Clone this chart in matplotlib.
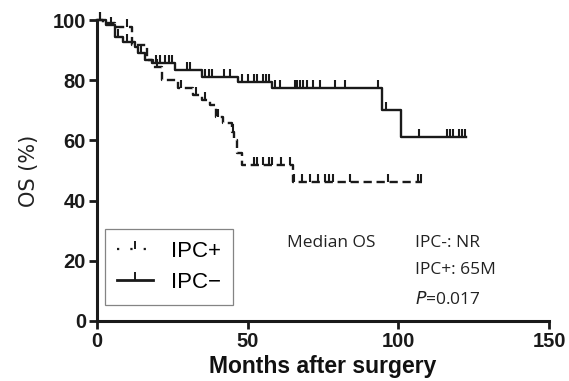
import numpy as np
import matplotlib
matplotlib.use("Agg")
import matplotlib.pyplot as plt
from matplotlib.lines import Line2D

# ---- data ----
neg_times = [0, 3, 6, 8.6, 12.6, 13.7, 16, 18.1, 26, 35, 46.8, 58, 94.5, 100.8]
neg_surv  = [100, 98.3, 94.5, 92.8, 91.1, 89, 86.7, 85.7, 83.4, 81, 79.5, 77.3, 70.1, 61.2]
neg_end = 122.5
neg_censor = [1, 4.5, 7, 10, 14.5, 19.5, 21, 22.5, 24, 25, 30, 31, 36, 37, 38, 42, 44, 48, 50,
              52, 53, 55, 56, 57, 59, 60.7, 65.7, 66.5, 67.5, 68.4, 69.7, 71.7, 74, 79, 82.3, 93.3,
              96, 107, 116, 117, 118, 120, 121, 122]

pos_times = [0, 2, 6, 11.5, 16.5, 18.6, 21.5, 27, 32, 35, 37.5, 39.5, 41.9, 44.7, 45.5, 46.5, 48, 65]
pos_surv  = [100, 99, 97.7, 91.7, 86.7, 84.4, 80, 77.4, 75, 73.4, 71.8, 67.9, 65.7, 62.9, 60.1, 55.8, 51.8, 46.3]
pos_end = 108
pos_censor = [1, 10, 20, 28, 33, 36, 40, 45, 52, 53, 55, 57, 58, 61, 64,
              65.5, 68, 70.7, 73.3, 75.7, 77, 78.3, 84, 96.6, 106.5, 107.5]

xticks = [0, 50, 100, 150]
yticks = [0, 20, 40, 60, 80, 100]


def step_arrays(times, surv, end):
    t = np.array(list(times) + [end])
    s = np.array(list(surv) + [surv[-1]])
    return t, s


def level_at(t, s, x):
    return s[np.searchsorted(t, x, side="right") - 1]


fig = plt.figure(figsize=(5.69, 3.81), dpi=100)
ax = fig.add_axes([0.1705, 0.1575, 0.7944, 0.79])
ink = "#1a1a1a"

# IPC- solid
tn, sn = step_arrays(neg_times, neg_surv, neg_end)
ax.step(tn, sn, where="post", color=ink, lw=1.7, clip_on=False)
ax.plot(neg_censor, [level_at(tn, sn, c) for c in neg_censor], linestyle="none", marker=2,
        markersize=6, mew=1.5, color=ink, clip_on=False)

# IPC+ dashed
tp, sp = step_arrays(pos_times, pos_surv, pos_end)
ax.step(tp, sp, where="post", color=ink, lw=1.7, dashes=(3.5, 2), clip_on=False)
ax.plot(pos_censor, [level_at(tp, sp, c) for c in pos_censor], linestyle="none", marker=2,
        markersize=6, mew=1.5, color=ink, clip_on=False)

ax.set_xlim(0, 150)
ax.set_ylim(0, 100)
ax.set_xticks(xticks)
ax.set_yticks(yticks)
for s_ in ["top", "right"]:
    ax.spines[s_].set_visible(False)
for s_ in ["left", "bottom"]:
    ax.spines[s_].set_linewidth(2.2)
    ax.spines[s_].set_color(ink)
ax.tick_params(axis="both", direction="out", length=6, width=2, color=ink, pad=2)
for lab in ax.get_xticklabels() + ax.get_yticklabels():
    lab.set_fontfamily("Liberation Sans")
    lab.set_fontweight("bold")
    lab.set_fontsize(14.5)
    lab.set_color(ink)

ax.set_xlabel("Months after surgery", fontfamily="Liberation Sans", fontweight="bold",
              fontsize=16.5, color="#111111", labelpad=3)
ax.set_ylabel("OS (%)", fontfamily="DejaVu Sans", fontsize=15, color="#222222", labelpad=10)

# legend
h_pos = Line2D([0], [0], color=ink, lw=1.6, linestyle=(0, (1, 5)), marker=2, markersize=6, mew=1.4)
h_neg = Line2D([0], [0], color=ink, lw=2.0, marker=2, markersize=6, mew=1.4)
leg = ax.legend([h_pos, h_neg], ["IPC+", "IPC\u2212"], loc="lower left",
                bbox_to_anchor=(0.018, 0.053), borderaxespad=0, frameon=True, fancybox=False,
                prop={"family": "Liberation Sans", "size": 16}, handlelength=1.6,
                handletextpad=0.8, borderpad=0.55, labelspacing=0.45, numpoints=1)
leg.get_frame().set_edgecolor("#666666")
leg.get_frame().set_linewidth(0.9)

txt_kw = dict(fontfamily="Open Sans", fontsize=12.5, color="#222222")
ax.text(63, 25.9, "Median OS", ha="left", va="center", **txt_kw)
ax.text(105.5, 25.9, "IPC-: NR", ha="left", va="center", **txt_kw)
ax.text(105.5, 17, "IPC+: 65M", ha="left", va="center", **txt_kw)
ax.text(105.5, 7, "$\\it{P}$=0.017", ha="left", va="center", **txt_kw)

fig.savefig("out.png", dpi=100)
